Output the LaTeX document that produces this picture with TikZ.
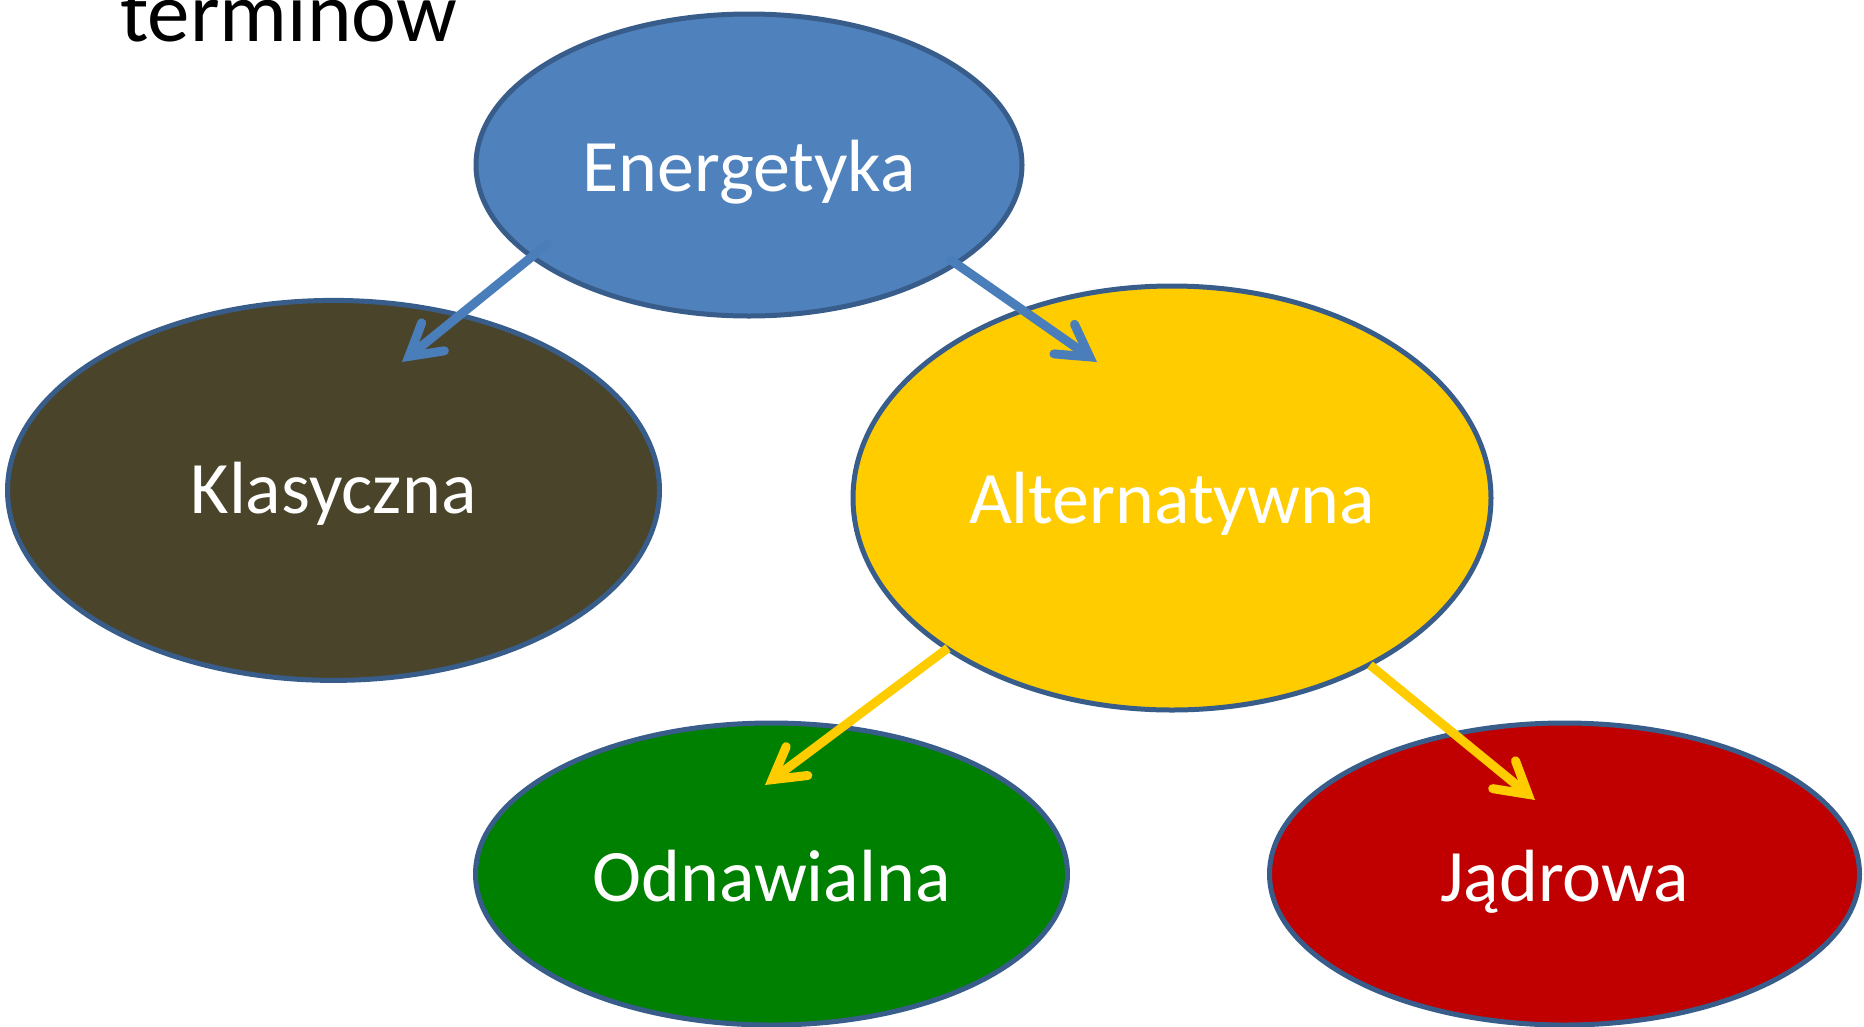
\documentclass[tikz,border=0pt]{standalone}
\usepackage{fontspec}
\setmainfont{Carlito}
\usetikzlibrary{arrows.meta,shapes.geometric,calc}

\definecolor{outline}{HTML}{385D8A}
\definecolor{energyblue}{HTML}{4F81BD}
\definecolor{classicbrown}{HTML}{4A452A}
\definecolor{altyellow}{HTML}{FFCC00}
\definecolor{renewgreen}{HTML}{008000}
\definecolor{nuclearred}{HTML}{C00000}
\definecolor{arrowblue}{HTML}{4A7EBB}

\tikzset{
  bubble/.style={ellipse, draw=outline, line width=5pt, inner sep=0pt,
    text=white, font=\fontsize{74}{80}\selectfont, text depth=0pt},
  link/.style={line width=9pt, line cap=butt,
    -{Straight Barb[length=31pt, width=36pt, line cap=round, line join=miter]}},
}

\begin{document}
\begin{tikzpicture}[x=1pt, y=-1pt]
  \useasboundingbox (0,0) rectangle (1864,1026);

  % heading, partly above the top edge
  \node[anchor=base west, inner sep=0pt, font=\fontsize{85}{90}\selectfont]
    (title) at (120,41) {terminów};

  % categories
  \node[bubble, fill=energyblue, minimum width=546pt, minimum height=302pt,
        text height=52pt]
    (E) at (749,165) {Energetyka};
  \node[bubble, fill=classicbrown, minimum width=652pt, minimum height=380pt,
        text height=47pt]
    (K) at (333.5,490.4) {Klasyczna};
  \node[bubble, fill=altyellow, minimum width=638pt, minimum height=424pt,
        text height=50pt]
    (A) at (1172,498) {Alternatywna};
  \node[bubble, fill=renewgreen, minimum width=592pt, minimum height=302pt,
        text height=54pt]
    (O) at (771.5,874) {Odnawialna};
  \node[bubble, fill=nuclearred, minimum width=590pt, minimum height=302pt,
        text height=54pt]
    (J) at (1564.5,874) {Jądrowa};

  % hierarchy arrows
  \draw[link, arrowblue] ($(E)+(-199,77)$) -- ($(K)+(68.5,-128.4)$);
  \draw[link, arrowblue] ($(E)+(199,93)$) -- ($(A)+(-75,-136)$);
  \draw[link, altyellow] ($(A)+(-224,150)$) -- ($(O)+(-6.5,-89)$);
  \draw[link, altyellow] ($(A)+(198,167)$) -- ($(J)+(-29.5,-74)$);
\end{tikzpicture}
\end{document}
